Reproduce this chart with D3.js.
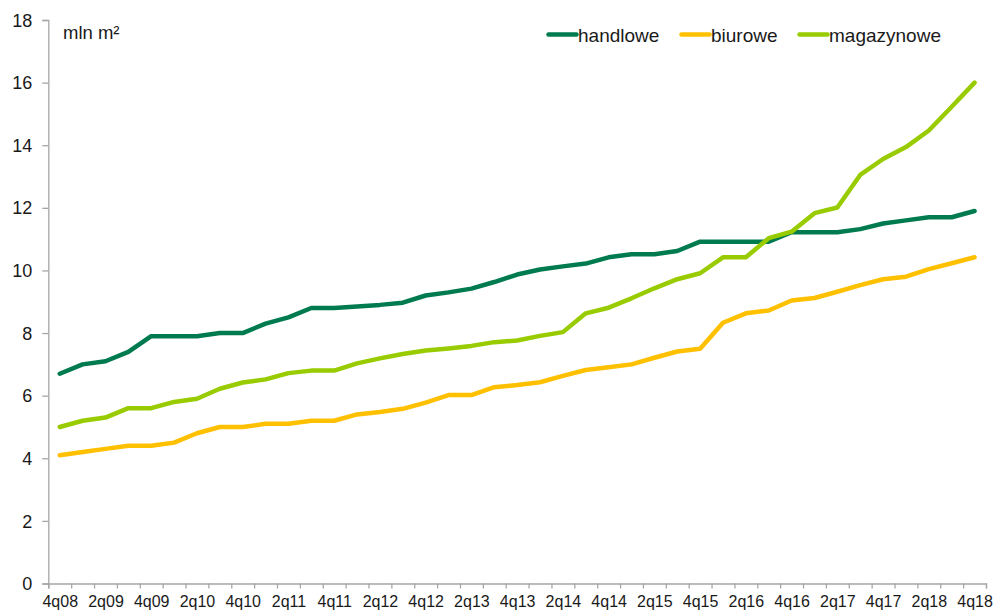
<!DOCTYPE html>
<html>
<head>
<meta charset="utf-8">
<script src="https://cdn.jsdelivr.net/npm/d3@7"></script>
<style>
  body { margin: 0; background: #fff; }
  svg text { font-family: "Liberation Sans", Arial, sans-serif; fill: #1a1a1a; }
</style>
</head>
<body>
<div id="chart"></div>
<script>
// quarters 4q08 .. 4q18
const quarters = [];
for (let y = 8; y <= 18; y++) {
    for (let q = 1; q <= 4; q++) {
        if (y === 8 && q < 4) continue;
        quarters.push(q + "q" + String(y).padStart(2, "0"));
    }
}

const handlowe = [6.7, 7.0, 7.1, 7.4, 7.9, 7.9, 7.9, 8.0, 8.0, 8.3, 8.5, 8.8, 8.8, 8.85, 8.9, 8.97, 9.2, 9.3, 9.42, 9.63, 9.87,
    10.03, 10.13, 10.22, 10.42, 10.52, 10.52, 10.62, 10.92, 10.92, 10.92, 10.92, 11.22, 11.22, 11.22, 11.32, 11.5, 11.6, 11.7, 11.7, 11.9];
const biurowe = [4.1, 4.2, 4.3, 4.4, 4.4, 4.5, 4.8, 5.0, 5.0, 5.1, 5.1, 5.2, 5.2, 5.4, 5.48, 5.58, 5.78, 6.02, 6.02, 6.27, 6.34,
    6.43, 6.63, 6.82, 6.91, 7.0, 7.21, 7.41, 7.5, 8.33, 8.63, 8.72, 9.04, 9.12, 9.32, 9.53, 9.72, 9.8, 10.04, 10.23, 10.42];
const magazynowe = [5.0, 5.2, 5.3, 5.6, 5.6, 5.8, 5.9, 6.22, 6.42, 6.52, 6.72, 6.8, 6.8, 7.03, 7.19, 7.33, 7.44, 7.51, 7.59, 7.71, 7.76,
    7.91, 8.03, 8.63, 8.81, 9.11, 9.43, 9.72, 9.91, 10.42, 10.42, 11.03, 11.24, 11.83, 12.01, 13.05, 13.56, 13.94, 14.47, 15.23, 16.0];

const yTicks = [0, 2, 4, 6, 8, 10, 12, 14, 16, 18];

const series = [
    {name: "handlowe", values: handlowe, color: "#007b4f"},
    {name: "biurowe", values: biurowe, color: "#ffc000"},
    {name: "magazynowe", values: magazynowe, color: "#99cc00"}
];

const width = 996, height = 611;
const margin = {top: 20, right: 10, bottom: 27.5, left: 48.3};
const axisColor = "#a6a6a6";

const svg = d3.select("#chart").append("svg")
    .attr("width", width)
    .attr("height", height);

// index scale, band edges at i +/- 0.5
const x = d3.scaleLinear()
    .domain([-0.5, quarters.length - 0.5])
    .range([margin.left, 986]);

const y = d3.scaleLinear()
    .domain([0, 18])
    .range([height - margin.bottom, margin.top]);

// y axis
const yAxis = svg.append("g")
    .attr("transform", `translate(${margin.left},0)`)
    .call(d3.axisLeft(y).tickValues(yTicks).tickSize(6).tickPadding(10));
yAxis.selectAll("text").style("font-size", "18px").attr("dy", "0.34em");

// x axis: small ticks on every quarter boundary
const xTickAxis = svg.append("g")
    .attr("transform", `translate(0,${y(0)})`)
    .call(d3.axisBottom(x)
        .tickValues(d3.range(-0.5, quarters.length, 1))
        .tickSize(5)
        .tickFormat(""));

// labels on every second quarter
const xLabelAxis = svg.append("g")
    .attr("transform", `translate(0,${y(0)})`)
    .call(d3.axisBottom(x)
        .tickValues(d3.range(0, quarters.length, 2))
        .tickSize(0)
        .tickPadding(12.5)
        .tickFormat(i => quarters[i]));
xLabelAxis.select(".domain").remove();
xLabelAxis.selectAll("text").style("font-size", "16px");

svg.selectAll(".domain, .tick line")
    .attr("stroke", axisColor)
    .attr("stroke-width", 1.3);

// unit label
svg.append("text")
    .attr("x", 63)
    .attr("y", 39)
    .style("font-size", "18.5px")
    .text("mln m²");

// lines
const line = d3.line()
    .x((d, i) => x(i))
    .y(d => y(d));

svg.selectAll(".series")
    .data(series)
    .enter()
    .append("path")
    .attr("class", "series")
    .attr("d", d => line(d.values))
    .attr("fill", "none")
    .attr("stroke", d => d.color)
    .attr("stroke-width", 4.5)
    .attr("stroke-linecap", "round")
    .attr("stroke-linejoin", "round");

// legend
const legendX = [547, 680, 798];
const legend = svg.selectAll(".legend")
    .data(series)
    .enter()
    .append("g")
    .attr("class", "legend")
    .attr("transform", (d, i) => `translate(${legendX[i]},34.5)`);

legend.append("line")
    .attr("x1", 1.5).attr("x2", 29.5)
    .attr("stroke", d => d.color)
    .attr("stroke-width", 4.5)
    .attr("stroke-linecap", "round");

legend.append("text")
    .attr("x", 31)
    .attr("y", 7)
    .style("font-size", "19px")
    .text(d => d.name);
</script>
</body>
</html>
